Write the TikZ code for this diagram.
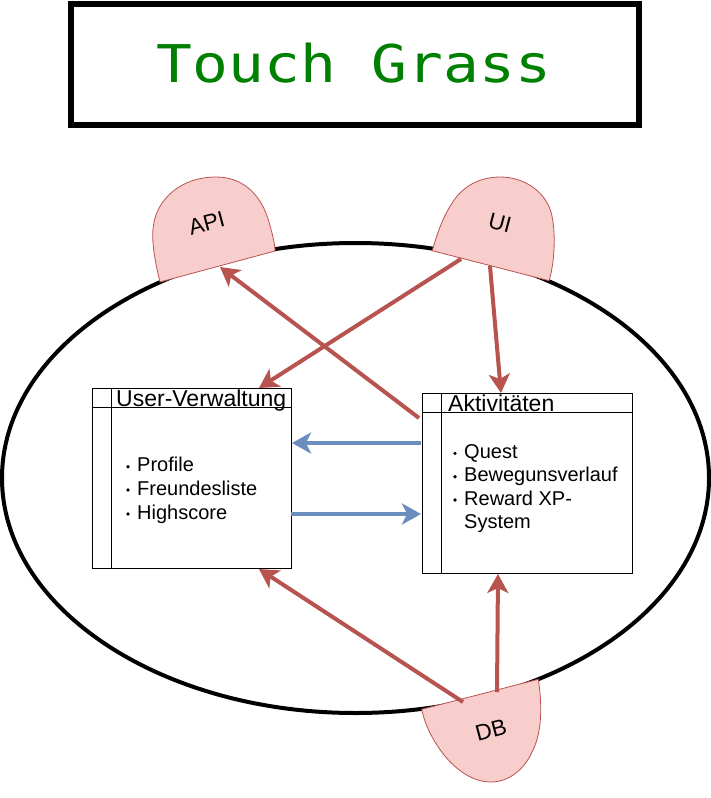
\documentclass[tikz,border=0pt]{standalone}
\usepackage{fontspec}
\setmainfont{Liberation Sans}
\newfontfamily\titlefont[FakeStretch=1.145]{DejaVu Sans Mono}
\usetikzlibrary{arrows.meta,shapes.geometric}
\definecolor{redS}{HTML}{B85450}
\definecolor{redF}{HTML}{F8CECC}
\definecolor{blueS}{HTML}{6C8EBF}
\definecolor{titleG}{HTML}{008000}
\begin{document}
\begin{tikzpicture}[x=1pt,y=-1pt,
  redarrow/.style={draw=redS, line width=4pt, -{Stealth[length=19pt,width=21pt,inset=5pt]}},
  bluearrow/.style={draw=blueS, line width=4pt, -{Stealth[length=19pt,width=21pt,inset=5pt]}},
  dshape/.style={draw=redS, fill=redF, line width=0.8pt},
  lbl/.style={font=\fontsize{22.5}{26}\selectfont, inner sep=0pt},
  hdr/.style={font=\fontsize{23}{27}\selectfont, anchor=base west, inner sep=0pt},
  item/.style={font=\fontsize{20}{24}\selectfont, anchor=base west, inner sep=0pt},
  box/.style={draw=black, line width=1pt, fill=white, inner sep=0pt, minimum width=#1, minimum height=180pt},
  dot/.style={fill=black}
]
\fill[white] (0,0) rectangle (711,798);
\useasboundingbox (0,0) rectangle (711,798);

% title
\node[draw=black, line width=6pt, minimum width=568pt, minimum height=121.5pt, inner sep=0pt] (title) at (355,64.25) {};
\node[anchor=base, inner sep=0pt, text=titleG, font=\titlefont\fontsize{52}{60}\selectfont] (titletext) at (354,82.7) {Touch Grass};

% system ellipse
\node[draw=black, line width=4pt, ellipse, minimum width=707pt, minimum height=470pt, inner sep=0pt] (sys) at (355.5,478) {};

% D shapes
\draw[dshape] (160,282) .. controls (155,262) and (151,240) .. (153.5,225)
  .. controls (157,200) and (180,177) .. (216,177)
  .. controls (245,177) and (262,197) .. (269,222)
  .. controls (273,236) and (275,245) .. (275,251) -- cycle;
\draw[dshape] (432.3,250.7) .. controls (437,234) and (444,212) .. (458,195)
  .. controls (470,182) and (485,177) .. (500,177)
  .. controls (525,177) and (545,192) .. (551,212)
  .. controls (556,230) and (555,262) .. (549,280.7) -- cycle;
\draw[dshape] (421.7,709.3) .. controls (425,725) and (433,742) .. (447,758.5)
  .. controls (460,773) and (475,782) .. (491,782)
  .. controls (510,782) and (525,768) .. (532,752)
  .. controls (541,735) and (543,710) .. (538.3,679.3) -- cycle;
\node[lbl, rotate=15] (api) at (206.7,223.3) {API};
\node[lbl, rotate=-15] (ui) at (500,223.3) {UI};
\node[lbl, rotate=15] (db) at (491,730) {DB};

% boxes
\node[box=199pt] (uv) at (191.5,478) {};
\draw[line width=1pt] ([xshift=20pt]uv.north west) -- ([xshift=20pt]uv.south west);
\draw[line width=1pt] ([yshift=-20pt]uv.north west) -- ([yshift=-20pt]uv.north east);
\node[hdr] (uvh) at (116,406) {User-Verwaltung};
\fill[dot] (128,466.7) circle (1.8pt);
\fill[dot] (128,490) circle (1.8pt);
\fill[dot] (128,514) circle (1.8pt);
\node[item] (uv1) at (137,471.7) {Profile};
\node[item] (uv2) at (137,495) {Freundesliste};
\node[item] (uv3) at (137,519) {Highscore};

\node[box=210pt] (akt) at (527,483) {};
\draw[line width=1pt] ([xshift=20pt]akt.north west) -- ([xshift=20pt]akt.south west);
\draw[line width=1pt] ([yshift=-20pt]akt.north west) -- ([yshift=-20pt]akt.north east);
\node[hdr] (akth) at (448,411) {Aktivitäten};
\fill[dot] (455,453.3) circle (1.8pt);
\fill[dot] (455,476.7) circle (1.8pt);
\fill[dot] (455,500) circle (1.8pt);
\node[item] (ak1) at (464,458.3) {Quest};
\node[item] (ak2) at (464,481.7) {Bewegunsverlauf};
\node[item] (ak3) at (464,505) {Reward XP-};
\node[item] (ak4) at (464,528.3) {System};

% connector end points
\coordinate (a1s) at (419,418);
\coordinate (a1e) at (220,267);
\coordinate (a2s) at (461,259);
\coordinate (a2e) at (259,388);
\coordinate (a3s) at (490,266);
\coordinate (a3e) at (501,393);
\coordinate (a4s) at (463,702);
\coordinate (a4e) at (259,569);
\coordinate (a5s) at (497,692);
\coordinate (a5e) at (498,574);
\coordinate (b1s) at (421,443);
\coordinate (b1e) at (292,443);
\coordinate (b2s) at (291,514);
\coordinate (b2e) at (421,514);

\draw[redarrow] (a1s) -- (a1e);
\draw[redarrow] (a2s) -- (a2e);
\draw[redarrow] (a3s) -- (a3e);
\draw[redarrow] (a4s) -- (a4e);
\draw[redarrow] (a5s) -- (a5e);
\draw[bluearrow] (b1s) -- (b1e);
\draw[bluearrow] (b2s) -- (b2e);
\end{tikzpicture}
\end{document}
